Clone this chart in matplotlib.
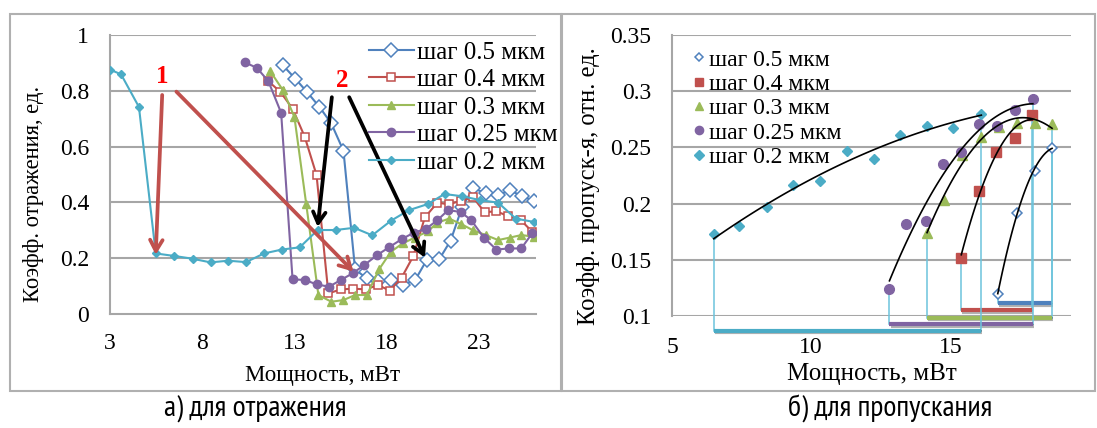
import numpy as np
import matplotlib
matplotlib.use("Agg")
import matplotlib.pyplot as plt
from matplotlib.patches import Rectangle
import matplotlib.patheffects as pe

plt.rcParams['font.family'] = ['Liberation Serif', 'DejaVu Serif']

# ---------------- data: left panel (reflection) ----------------
labels = ['шаг 0.5 мкм', 'шаг 0.4 мкм', 'шаг 0.3 мкм', 'шаг 0.25 мкм', 'шаг 0.2 мкм']
colors = ['#4f81bd', '#c0504d', '#9bbb59', '#8064a2', '#4bacc6']

r_x05 = [12.38, 13.04, 13.68, 14.36, 15.0, 15.66, 16.29, 16.91, 17.55, 18.23, 18.87,
         19.55, 20.17, 20.85, 21.47, 22.1, 22.69, 23.37, 24.05, 24.69, 25.34, 25.98]
r_y05 = [0.891, 0.844, 0.796, 0.742, 0.683, 0.585, 0.16, 0.128, 0.119, 0.122, 0.104,
         0.122, 0.193, 0.196, 0.263, 0.384, 0.45, 0.434, 0.426, 0.444, 0.422, 0.406]
r_x04 = [11.59, 12.24, 12.9, 13.56, 14.2, 14.84, 15.52, 16.2, 16.88, 17.52, 18.17, 18.81,
         19.45, 20.07, 20.75, 21.39, 22.01, 22.69, 23.31, 23.95, 24.59, 25.27, 25.89]
r_y04 = [0.834, 0.796, 0.736, 0.635, 0.498, 0.074, 0.088, 0.091, 0.088, 0.104, 0.084, 0.13,
         0.208, 0.346, 0.399, 0.393, 0.406, 0.418, 0.365, 0.368, 0.351, 0.337, 0.295]
r_x03 = [11.68, 12.38, 13.0, 13.64, 14.3, 15.0, 15.66, 16.29, 16.93, 17.59, 18.23, 18.87,
         19.53, 20.23, 20.75, 21.39, 22.05, 22.69, 23.37, 24.05, 24.69, 25.31, 25.98]
r_y03 = [0.871, 0.802, 0.706, 0.394, 0.068, 0.044, 0.05, 0.068, 0.068, 0.16, 0.223, 0.253,
         0.274, 0.296, 0.327, 0.342, 0.322, 0.30, 0.283, 0.265, 0.274, 0.283, 0.277]
r_x025 = [10.31, 10.97, 11.59, 12.28, 12.9, 13.58, 14.2, 14.88, 15.52, 16.16, 16.78, 17.48,
          18.13, 18.81, 19.49, 20.13, 20.75, 21.33, 22.01, 22.59, 23.27, 23.95, 24.63, 25.3, 25.89]
r_y025 = [0.902, 0.882, 0.834, 0.721, 0.124, 0.122, 0.106, 0.098, 0.122, 0.146, 0.175, 0.211,
          0.239, 0.268, 0.292, 0.305, 0.336, 0.372, 0.366, 0.336, 0.274, 0.231, 0.235, 0.235, 0.289]
r_x02 = [3.0, 3.6, 4.57, 5.48, 6.49, 7.48, 8.45, 9.41, 10.38, 11.35, 12.32, 13.29, 14.26,
         15.23, 16.24, 17.22, 18.23, 19.2, 20.23, 21.14, 22.1, 23.08, 24.05, 25.0, 25.98]
r_y02 = [0.876, 0.859, 0.742, 0.217, 0.208, 0.198, 0.185, 0.191, 0.186, 0.217, 0.231, 0.239, 0.301,
         0.301, 0.309, 0.282, 0.334, 0.372, 0.394, 0.43, 0.422, 0.408, 0.399, 0.342, 0.33]

left_xticks = [3, 8, 13, 18, 23]
left_yticks = [0, 0.2, 0.4, 0.6, 0.8, 1]
left_yticklabels = ['0', '0.2', '0.4', '0.6', '0.8', '1']

# annotation arrows (start x, start y, end x, end y)
red_arrows = [(5.83, 0.785, 5.48, 0.212), (6.6, 0.797, 16.2, 0.152)]
black_arrows = [(15.03, 0.777, 14.26, 0.312), (15.97, 0.777, 20.08, 0.202)]
label1_pos = (5.83, 0.85)
label2_pos = (15.59, 0.836)

# ---------------- data: right panel (transmission) ----------------
t_x05 = [16.70, 17.38, 18.02, 18.65]
t_y05 = [0.1193, 0.1913, 0.229, 0.2498]
t_x04 = [15.39, 16.01, 16.63, 17.32, 17.93]
t_y04 = [0.1513, 0.2112, 0.2459, 0.2587, 0.2789]
t_x03 = [14.16, 14.78, 15.43, 16.08, 16.75, 17.38, 18.02, 18.65]
t_y03 = [0.1736, 0.2032, 0.243, 0.259, 0.2685, 0.272, 0.272, 0.2708]
t_x025 = [12.81, 13.42, 14.11, 14.73, 15.39, 16.01, 16.66, 17.32, 17.96]
t_y025 = [0.1237, 0.1819, 0.1848, 0.2352, 0.2462, 0.2705, 0.269, 0.2833, 0.2934]
t_x02 = [6.50, 7.41, 8.42, 9.35, 10.32, 11.28, 12.25, 13.19, 14.16, 15.10, 16.11]
t_y02 = [0.1727, 0.180, 0.1967, 0.2166, 0.220, 0.247, 0.240, 0.2613, 0.269, 0.2673, 0.2797]
# horizontal range bars under the plot (level for each series)
bar_levels = [0.1113, 0.1053, 0.0985, 0.0926, 0.0870]

right_xticks = [5, 10, 15]
right_yticks = [0.1, 0.15, 0.2, 0.25, 0.3, 0.35]
right_yticklabels = ['0.1', '0.15', '0.2', '0.25', '0.3', '0.35']

# ---------------- figure ----------------
W, H = 1097, 428
fig = plt.figure(figsize=(W / 100, H / 100), dpi=100)

def fx(px):
    return px / W

def fy(py):
    return 1 - py / H

grid_c = '#a6a6a6'

# frames
fig.add_artist(Rectangle((fx(10), fy(391)), fx(561) - fx(10), fy(14) - fy(391),
                         transform=fig.transFigure, fill=False, ec='#b0b0b0', lw=1.5))
fig.add_artist(Rectangle((fx(562), fy(391)), fx(1095) - fx(562), fy(14) - fy(391),
                         transform=fig.transFigure, fill=False, ec='#b0b0b0', lw=1.5))

# ---------- left axes ----------
axL = fig.add_axes([fx(110), fy(314), fx(536) - fx(110), fy(35) - fy(314)])
axL.set_xlim(3, 26.1)
axL.set_ylim(0, 1)
for s in ['top', 'right']:
    axL.spines[s].set_visible(False)
for s in ['left', 'bottom']:
    axL.spines[s].set_color(grid_c)
    axL.spines[s].set_linewidth(1.5)
axL.set_yticks(left_yticks)
axL.set_yticklabels(left_yticklabels)
axL.set_xticks(left_xticks)
axL.tick_params(axis='both', length=0, labelsize=17)
axL.tick_params(axis='y', pad=15)
axL.tick_params(axis='x', pad=14)
for yv in left_yticks[1:]:
    axL.axhline(yv, color=grid_c, lw=1.5, zorder=0)

left_series = [(r_x05, r_y05), (r_x04, r_y04), (r_x03, r_y03), (r_x025, r_y025), (r_x02, r_y02)]
left_styles = [
    dict(marker='D', ms=7, mfc='white', mew=1.1),
    dict(marker='s', ms=5.5, mfc='white', mew=1.1),
    dict(marker='^', ms=6),
    dict(marker='o', ms=6),
    dict(marker='D', ms=4),
]
for (xs, ys), c, lab, st in zip(left_series, colors, labels, left_styles):
    axL.plot(xs, ys, color=c, lw=1.5, mec=c, label=lab, zorder=3, **st)

for (x0, y0, x1, y1) in red_arrows:
    axL.annotate('', xy=(x1, y1), xytext=(x0, y0),
                 arrowprops=dict(arrowstyle='->,head_length=0.8,head_width=0.45',
                                 color='#c0504d', lw=2.7, shrinkA=0, shrinkB=0), zorder=5)
for (x0, y0, x1, y1) in black_arrows:
    axL.annotate('', xy=(x1, y1), xytext=(x0, y0),
                 arrowprops=dict(arrowstyle='->,head_length=0.8,head_width=0.45',
                                 color='black', lw=2.7, shrinkA=0, shrinkB=0), zorder=5)
axL.text(*label1_pos, '1', color='red', fontsize=18, fontweight='bold', ha='center', va='center')
axL.text(*label2_pos, '2', color='red', fontsize=18, fontweight='bold', ha='center', va='center')

legL = axL.legend(loc='upper left', bbox_to_anchor=(0.607, 0.978), frameon=False, fontsize=18,
                  handlelength=1.8, handletextpad=0.15, labelspacing=0.2, borderpad=0,
                  borderaxespad=0)

fig.text(fx(34), fy(194), 'Коэфф. отражения, ед.', rotation=90, ha='center', va='center',
         fontsize=16.3)
fig.text(fx(323), fy(375), 'Мощность, мВт', ha='center', va='center', fontsize=16.5)

# ---------- right axes ----------
axR = fig.add_axes([fx(672), fy(316), fx(1071) - fx(672), fy(35) - fy(316)])
axR.set_xlim(5, 19.33)
axR.set_ylim(0.1, 0.35)
for s in ['top', 'right', 'bottom']:
    axR.spines[s].set_visible(False)
axR.spines['left'].set_color(grid_c)
axR.spines['left'].set_linewidth(1.5)
axR.set_yticks(right_yticks)
axR.set_yticklabels(right_yticklabels)
axR.set_xticks(right_xticks)
axR.tick_params(axis='both', length=0, labelsize=17)
axR.tick_params(axis='y', pad=15)
axR.tick_params(axis='x', pad=15)
for yv in right_yticks:
    axR.axhline(yv, color=grid_c, lw=1.5, zorder=0)

right_series = [(t_x05, t_y05), (t_x04, t_y04), (t_x03, t_y03), (t_x025, t_y025), (t_x02, t_y02)]
right_styles = [
    dict(marker='D', ms=5, mfc='white', mew=1.1),
    dict(marker='s', ms=6.5),
    dict(marker='^', ms=7),
    dict(marker='o', ms=7),
    dict(marker='D', ms=5.5),
]
vline_c = '#6cc3dc'
for (xs, ys), c, lab, st, lev in zip(right_series, colors, labels, right_styles, bar_levels):
    xs = np.asarray(xs)
    ys = np.asarray(ys)
    axR.plot(xs, ys, ls='none', color=c, mec=c, label=lab, zorder=4, **st)
    coef = np.polyfit(xs, ys, 2)
    xx = np.linspace(xs[0], xs[-1], 100)
    axR.plot(xx, np.polyval(coef, xx), color='black', lw=1.2, zorder=5)
    # vertical drop lines
    axR.plot([xs[0], xs[0]], [ys[0], lev], color=vline_c, lw=1.1, clip_on=False, zorder=3)
    axR.plot([xs[-1], xs[-1]], [ys[-1], lev], color=vline_c, lw=1.1, clip_on=False, zorder=3)
    axR.plot([xs[0], xs[-1]], [lev, lev], color=c, lw=3, clip_on=False, zorder=3,
             solid_capstyle='butt',
             path_effects=[pe.SimpleLineShadow(offset=(0.8, -1.2), alpha=0.3), pe.Normal()])

legR = axR.legend(loc='upper left', bbox_to_anchor=(0.043, 0.95), frameon=False, fontsize=17,
                  handlelength=0.8, handletextpad=0.05, labelspacing=0.12, borderpad=0,
                  borderaxespad=0, markerscale=0.85)

fig.text(fx(589), fy(186), 'Коэфф. пропуск-я, отн. ед.', rotation=90, ha='center', va='center',
         fontsize=17.7)
fig.text(fx(872), fy(374), 'Мощность, мВт', ha='center', va='center', fontsize=18)

# ---------- captions ----------
cap_font = ['PT Sans Narrow', 'Roboto Condensed', 'Liberation Sans Narrow', 'Archivo Narrow',
            'DejaVu Sans']
fig.text(fx(255), fy(409), 'а) для отражения', ha='center', va='center', fontsize=21.5,
         family=cap_font)
fig.text(fx(890), fy(409), 'б) для пропускания', ha='center', va='center', fontsize=21.5,
         family=cap_font)

fig.savefig('out.png', dpi=100)
